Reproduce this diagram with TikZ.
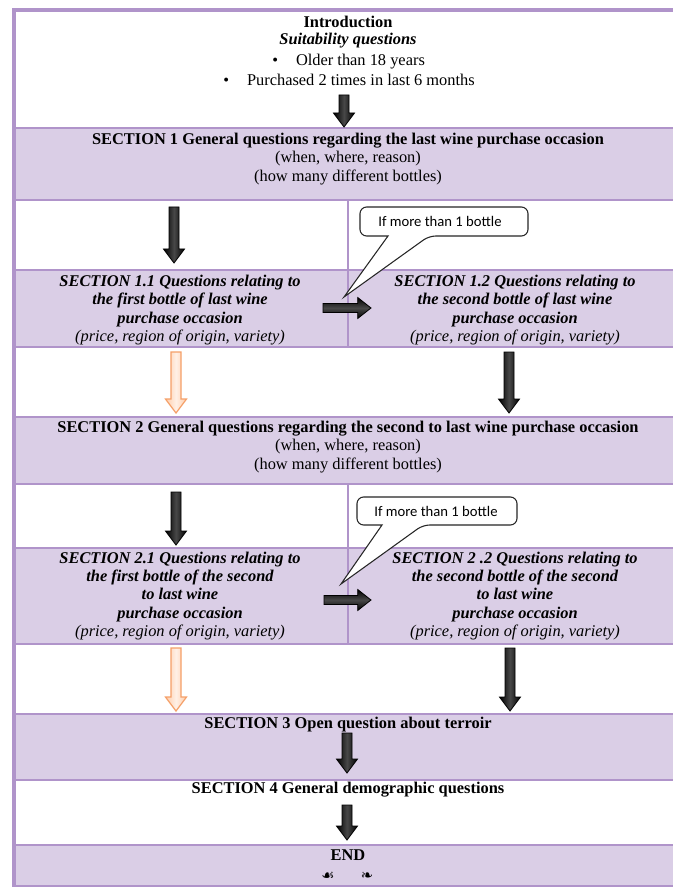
\documentclass[tikz,border=0pt]{standalone}
\usepackage{fontspec}
\setmainfont{Liberation Serif}
\newfontfamily\calibri{Carlito}
\newfontfamily\djv{DejaVu Sans}
\usetikzlibrary{calc}
\definecolor{lilac}{RGB}{218,206,230}
\definecolor{framec}{RGB}{176,148,202}
\definecolor{orangeline}{RGB}{245,160,105}
\definecolor{orangefill}{RGB}{255,205,170}
\begin{document}
\begin{tikzpicture}[x=0.75pt,y=-0.75pt,
  every node/.style={inner sep=0pt, font=\fontsize{12.3}{13.7}\selectfont, text=black},
  txt/.style={align=center},
  bitxt/.style={align=center, font=\fontsize{12.3}{13.7}\selectfont\bfseries\itshape},
  gridline/.style={draw=framec, line width=1.5pt},
  vshape/.style={to path={let \p1=(\tikztostart), \p2=(\tikztotarget) in
       (\x1-3.75pt,\y1) -- (\x1-3.75pt,\y2+10.5pt) -- (\x1-7.9pt,\y2+10.5pt) -- (\x2,\y2)
       -- (\x1+7.9pt,\y2+10.5pt) -- (\x1+3.75pt,\y2+10.5pt) -- (\x1+3.75pt,\y1) -- cycle}},
  hshape/.style={to path={let \p1=(\tikztostart), \p2=(\tikztotarget) in
       (\x1,\y1+3.4pt) -- (\x2-10pt,\y1+3.4pt) -- (\x2-10pt,\y1+7.9pt) -- (\x2,\y2)
       -- (\x2-10pt,\y1-7.9pt) -- (\x2-10pt,\y1-3.4pt) -- (\x1,\y1-3.4pt) -- cycle}},
  vblk/.style={vshape, draw=black, line width=0.6pt, left color=black, right color=black, middle color=black!72},
  hblk/.style={hshape, draw=black, line width=0.6pt, top color=black, bottom color=black, middle color=black!72},
  vorg/.style={vshape, draw=orangeline, line width=0.9pt, left color=orangefill, right color=orangefill, middle color=orangefill!30!white},
  calloutline/.style={draw=black!85, line width=0.8pt, fill=white},
  calltext/.style={font=\calibri\fontsize{11}{12}\selectfont},
  flourish/.style={font=\djv\fontsize{11}{12}\selectfont}
]
\useasboundingbox (0,0) rectangle (673,887);
\clip (0,0) rectangle (673,887);
\fill[white] (0,0) rectangle (673,887);

% purple rows
\fill[lilac] (14,128) rectangle (682,200);
\fill[lilac] (14,270) rectangle (682,347);
\fill[lilac] (14,417) rectangle (682,484);
\fill[lilac] (14,548) rectangle (682,644);
\fill[lilac] (14,714) rectangle (682,780);
\fill[lilac] (14,845) rectangle (682,886);

% grid lines
\foreach \yy in {128,200,270,347,417,484,548,644,714,780,845}
  \draw[gridline] (14,\yy) -- (682,\yy);
\draw[gridline] (348,200) -- (348,347);
\draw[gridline] (348,484) -- (348,644);
\draw[draw=framec, line width=1pt] (14,886) -- (682,886);
\draw[draw=framec, line width=3pt] (14,887) -- (14,10) -- (682,10);

% texts
\node[txt] (intro) at (348,22) {\textbf{Introduction}};
\node[txt] (suit) at (348,41) {\textbf{\textit{Suitability questions}}};
\node[anchor=west] (older) at (272,62) {•\hspace{13.5pt}Older than 18 years};
\node[anchor=west] (purch) at (223,80) {•\hspace{13.5pt}Purchased 2 times in last 6 months};

\node[txt] (s1) at (348,159) {\textbf{SECTION 1 General questions regarding the last wine purchase occasion}\\(when, where, reason)\\(how many different bottles)};

\node[bitxt] (s11) at (180,310) {SECTION 1.1 Questions relating to\\the first bottle of last wine\\purchase occasion\\\mdseries (price, region of origin, variety)};
\node[bitxt] (s12) at (515,310) {SECTION 1.2 Questions relating to\\the second bottle of last wine\\purchase occasion\\\mdseries (price, region of origin, variety)};

\node[txt] (s2) at (348,447) {\textbf{SECTION 2 General questions regarding the second to last wine purchase occasion}\\(when, where, reason)\\(how many different bottles)};

\node[bitxt] (s21) at (180,596) {SECTION 2.1 Questions relating to\\the first bottle of the second\\to last wine\\purchase occasion\\\mdseries (price, region of origin, variety)};
\node[bitxt] (s22) at (515,596) {SECTION 2 .2 Questions relating to\\the second bottle of the second\\to last wine\\purchase occasion\\\mdseries (price, region of origin, variety)};

\node[txt] (s3) at (348,725) {\textbf{SECTION 3 Open question about terroir}};
\node[txt] (s4) at (348,790) {\textbf{SECTION 4 General demographic questions}};
\node[txt] (endn) at (348,855) {\textbf{END}};
\node[flourish] (fl1) at (328,876) {☙};
\node[flourish] (fl2) at (367,876) {❧};

% callouts
\coordinate (c1tip) at (344,297);
\draw[calloutline, rounded corners=5pt] (388,236) -- (360,236) -- (360,207) -- (528,207) -- (528,236) -- (429,236) [sharp corners] -- (c1tip) -- cycle;
\node[calltext] (c1) at (440,221) {If more than 1 bottle};
\coordinate (c2tip) at (341,584);
\draw[calloutline, rounded corners=5pt] (382,525) -- (357,525) -- (357,497) -- (517,497) -- (517,525) -- (423,525) [sharp corners] -- (c2tip) -- cycle;
\node[calltext] (c2) at (436,511) {If more than 1 bottle};

% arrows
\coordinate (a0s) at (344,95);  \coordinate (a0e) at (344,127);
\coordinate (a1s) at (174,207); \coordinate (a1e) at (174,263);
\coordinate (h1s) at (323,308); \coordinate (h1e) at (371,308);
\coordinate (o1s) at (176,352); \coordinate (o1e) at (176,413);
\coordinate (b1s) at (509,352); \coordinate (b1e) at (509,413);
\coordinate (a2s) at (176,492); \coordinate (a2e) at (176,545);
\coordinate (h2s) at (324,600); \coordinate (h2e) at (371,600);
\coordinate (o2s) at (176,648); \coordinate (o2e) at (176,711);
\coordinate (b2s) at (510,648); \coordinate (b2e) at (510,711);
\coordinate (a3s) at (347,733); \coordinate (a3e) at (347,773);
\coordinate (a4s) at (347,805); \coordinate (a4e) at (347,840);

\draw[vblk] (a0s) to (a0e);
\draw[vblk] (a1s) to (a1e);
\draw[hblk] (h1s) to (h1e);
\draw[vorg] (o1s) to (o1e);
\draw[vblk] (b1s) to (b1e);
\draw[vblk] (a2s) to (a2e);
\draw[hblk] (h2s) to (h2e);
\draw[vorg] (o2s) to (o2e);
\draw[vblk] (b2s) to (b2e);
\draw[vblk] (a3s) to (a3e);
\draw[vblk] (a4s) to (a4e);
\end{tikzpicture}
\end{document}
